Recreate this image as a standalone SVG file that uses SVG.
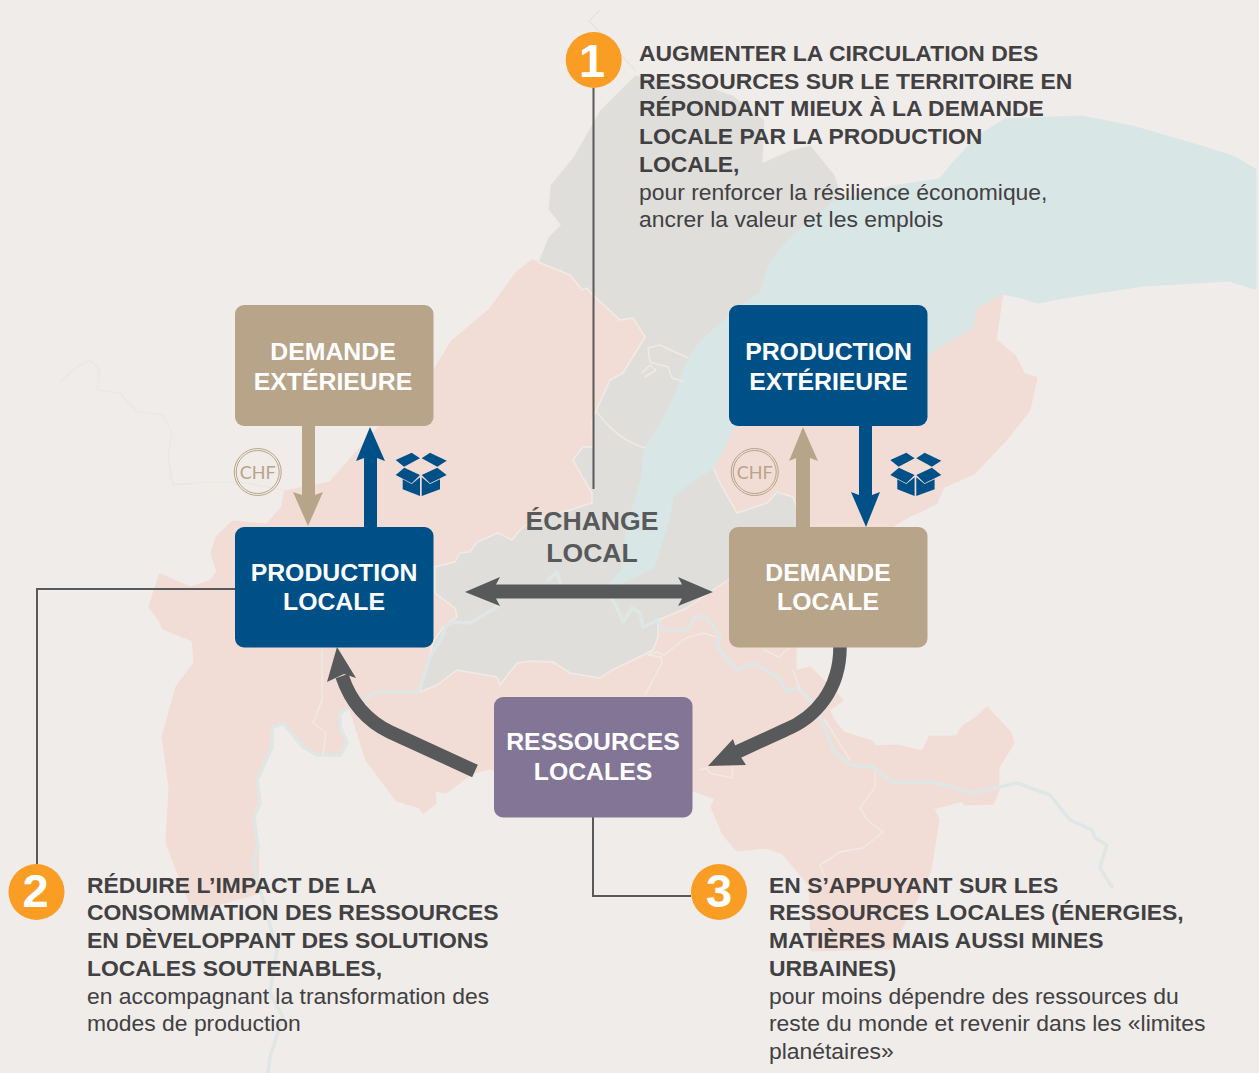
<svg xmlns="http://www.w3.org/2000/svg" xmlns:xlink="http://www.w3.org/1999/xlink" width="1259" height="1073" viewBox="0 0 1259 1073">
<style>
.land{stroke-linejoin:round;stroke-linecap:round}
.line{fill:none;stroke:#f0e9e4;stroke-width:1.5;stroke-linejoin:round;stroke-linecap:round}
.river{fill:none;stroke:#dfe7e6;stroke-width:3.5;stroke-linejoin:round;stroke-linecap:round}
.box{stroke:none}
.tan{fill:#b8a488}.blue{fill:#005088}.violet{fill:#837596}
.bt{font:bold 24.8px "Liberation Sans",Arial,sans-serif;fill:#fff;text-anchor:middle}
.b{font:bold 22.9px "Liberation Sans",Arial,sans-serif;fill:#414042}
.r{font:22.9px "Liberation Sans",Arial,sans-serif;fill:#414042}
.num{fill:#f99d25}
.digit{font:bold 47px "Liberation Sans",Arial,sans-serif;fill:#fff;text-anchor:middle}
.ld{fill:none;stroke:#58595b;stroke-width:2}
.chf{fill:none;stroke:#b8a488;stroke-width:1}
.chft{font:18px Lato,"Liberation Sans",sans-serif;fill:#b8a488;text-anchor:middle}
.grey{fill:#58595b}
</style>
<defs>
<g id="crate" fill="#005088">
<polygon points="395.7,460 411.7,452.7 420,458.3 404,466.7"/>
<polygon points="421.7,458.3 430,452.7 446.7,460.7 437.3,466.7"/>
<polygon points="395.7,475 404.3,467.7 420,475 411.7,483.3"/>
<polygon points="421.7,475 437.3,467.7 446.7,475 430,483.3"/>
<polygon points="402.7,479.3 411.7,484 420,477.3 420,496 402.7,489.3"/>
<polygon points="421.7,477.3 430,484 440,479.3 440,489.3 421.7,496"/>
</g>
<g id="coin">
<circle class="chf" cx="0" cy="0" r="23.5"/>
<circle class="chf" cx="0" cy="0" r="21.5"/>
<text class="chft" x="0" y="7">CHF</text>
</g>
</defs>
<rect width="1259" height="1073" fill="#f0ece9"/>
<g id="map">
<path class="line" style="stroke:#ebe7e4" d="M60,382 L75,368 90,360 100,370 97,390 120,393 137,412 163,415 172,433 168,457 173,485 207,482 240,482 283,490"/>
<path class="line" style="stroke:#e8e5e1" d="M600,10 L589,21 635,70"/>
<path class="land" fill="#f2ddd6" stroke="#f2ddd6" stroke-width="3" d="M532,261 L517,273 490,310 452,342 433,373 420,400 380,427 353,457 330,483 285,492 283,507 267,525 233,522 217,537 212,553 218,572 210,582 190,588 160,575 150,607 160,620 163,628 193,640 195,663 177,687 163,737 170,787 167,843 190,902 207,907 257,893 258,847 254,817 260,803 257,780 272,747 272,728 283,723 303,747 317,755 340,755 347,743 340,727 340,713 350,707 367,760 397,800 420,807 423,812 435,803 434,790 446,792 471,773 489,768 600,790 693,790 716,798 712,807 723,833 737,850 767,847 783,853 810,885 812,950 890,948 916,900 930,870 938,820 933,808 963,800 965,804 993,803 998,790 998,767 1013,743 1010,733 987,708 978,717 963,727 957,737 930,737 923,752 897,746 875,747 872,742 843,733 833,720 828,710 842,700 810,668 795,672 795,648 850,600 890,527 907,517 936,503 943,487 974,473 1005,440 1029,410 1036,378 1024,375 1015,357 995,340 1002,293 974,308 800,300 600,280 Z"/>
<path class="land" fill="#dfdeda" stroke="#f0ebe7" stroke-width="1.5" d="M538,262 L548,237 560,225 548,210 550,185 573,157 600,110 635,75 673,83 713,88 733,95 765,120 763,162 790,150 811,145 835,175 845,205 760,330 700,430 713,467 720,483 737,513 767,503 777,492 793,497 805,530 800,580 728,580 713,590 687,608 658,620 658,637 653,650 627,663 612,670 600,678 570,673 553,662 530,661 517,663 500,685 497,677 457,670 437,685 420,692 433,643 443,627 457,617 455,608 435,593 435,567 455,562 460,553 470,552 477,542 498,533 512,540 520,530 533,520 570,510 592,503 592,493 583,478 573,460 583,447 593,447 592,420 610,380 623,373 645,337 633,318 620,320 593,295 587,288 582,290 570,275 Z"/>
<path class="land" fill="#d9e6e6" stroke="#d9e6e6" stroke-width="3" d="M1255,170 L1255,288 1229,280 1143,285 1064,297 1038,302 1022,297 1002,293 974,308 972,327 930,352 850,400 733,427 727,440 713,467 693,480 673,495 667,523 653,567 633,577 607,588 623,570 627,530 637,497 642,480 645,448 660,427 677,393 687,363 700,343 733,313 761,293 771,263 789,240 833,203 892,187 940,180 954,163 978,137 1005,120 1081,117 1132,127 1201,147 1235,158 Z"/>
<path class="river" d="M607,590 L617,608 623,622 632,608 640,613 643,627 658,620 663,630 687,630 695,617 707,617 720,637 717,647 737,670 753,663 778,677 787,692 797,687 813,703 825,727 833,750 850,765 873,767 892,782 933,782 972,793 1017,783 1050,795 1070,820 1092,830 1095,838 1107,845 1102,860 1100,868 1112,887"/>
<path class="river" d="M548,580 L557,572 560,583 M497,607 L470,623 453,622 445,627 442,637 430,657 420,688 417,692 377,692 363,700 350,707 340,713 340,727 347,743 340,755 317,755 303,747 283,723 272,728 272,747 257,780 260,803 254,817 258,847 253,863 263,900 277,950 270,993 283,1017 270,1057 268,1073"/>
<path class="line" d="M597,412 C610,430 625,442 645,448"/>
<path class="line" d="M688,358 L675,352 660,345 648,348 650,362 668,367 672,378 683,381 M642,373 L650,365 656,370 645,377"/>
<path class="line" d="M875,770 L875,787 860,808 867,820 883,832 863,848 840,852 820,865 825,877"/>
<path class="line" d="M825,720 L850,760 M793,670 L800,690 M700,770 L707,768 709,773 732,778 733,767 M645,695 L662,663 661,657 648,655 657,652 664,655 686,638 704,633 716,637 M322,650 L322,700 313,723 326,733 323,755 M764,650 L779,657 789,648"/>
</g>
<g id="connectors">
<path class="ld" d="M593.5,88V489"/>
<path class="ld" d="M37,864V589H235"/>
<path class="ld" d="M593,817V896H691"/>
<polygon class="tan" points="302,426 315,426 315,495 323,492 308,526 293,492 302,495"/>
<polygon class="blue" points="364,527 377,527 377,458 385,461 370,427 356,461 364,458"/>
<polygon class="tan" points="796,527 810,527 810,458 818,461 803,427 789,461 796,458"/>
<polygon class="blue" points="859,426 872,426 872,495 880,492 866,527 851,492 859,495"/>
<polygon class="grey" points="465,592 500,577 496,584.5 682,584.5 678,577 713,592 678,606 682,598.5 496,598.5 500,606"/>
<path d="M475,771 L390,732 C365,720 350,700 342,676" fill="none" stroke="#58595b" stroke-width="13.5"/>
<polygon class="grey" points="337,647 356,678 344,674 327,682"/>
<path d="M840,647 C840,690 815,718 785,730 L735,753" fill="none" stroke="#58595b" stroke-width="13.5"/>
<polygon class="grey" points="708,766 733,739 737,751 746,765"/>
</g>
<g id="echange-local">
<text x="592" y="530" style="font:bold 26.600px 'Liberation Sans',Arial,sans-serif;fill:#58595b;text-anchor:middle">ÉCHANGE</text>
<text x="592" y="562" style="font:bold 26.600px 'Liberation Sans',Arial,sans-serif;fill:#58595b;text-anchor:middle">LOCAL</text>
</g>
<g id="demande-exterieure"><rect class="box tan" x="235" y="305" width="198.500" height="121" rx="9"/><text class="bt" x="333" y="360">DEMANDE</text><text class="bt" x="333" y="390">EXTÉRIEURE</text></g>
<g id="production-exterieure"><rect class="box blue" x="729" y="305" width="198.500" height="121" rx="9"/><text class="bt" x="828.500" y="360">PRODUCTION</text><text class="bt" x="828.500" y="390">EXTÉRIEURE</text></g>
<g id="production-locale"><rect class="box blue" x="235" y="527" width="198.500" height="120.500" rx="9"/><text class="bt" x="334" y="581">PRODUCTION</text><text class="bt" x="334" y="610">LOCALE</text></g>
<g id="demande-locale"><rect class="box tan" x="729" y="527" width="198.500" height="120.500" rx="9"/><text class="bt" x="828" y="581">DEMANDE</text><text class="bt" x="828" y="610">LOCALE</text></g>
<g id="ressources-locales"><rect class="box violet" x="494" y="697" width="198.500" height="120.500" rx="9"/><text class="bt" x="593" y="750">RESSOURCES</text><text class="bt" x="593" y="780">LOCALES</text></g>
<g id="chf-left"><use href="#coin" x="257.700" y="472"/></g>
<g id="chf-right"><use href="#coin" x="754.700" y="472"/></g>
<g id="crate-left"><use href="#crate"/></g>
<g id="crate-right"><use href="#crate" x="494.600"/></g>
<g id="callout-1">
<circle class="num" cx="593.700" cy="60" r="28"/><text class="digit" x="592" y="77">1</text>
<text class="b" x="639" y="61">AUGMENTER LA CIRCULATION DES</text>
<text class="b" x="639" y="88.700">RESSOURCES SUR LE TERRITOIRE EN</text>
<text class="b" x="639" y="116.400">RÉPONDANT MIEUX À LA DEMANDE</text>
<text class="b" x="639" y="144.100">LOCALE PAR LA PRODUCTION</text>
<text class="b" x="639" y="171.800">LOCALE,</text>
<text class="r" x="639" y="199.500">pour renforcer la résilience économique,</text>
<text class="r" x="639" y="227.200">ancrer la valeur et les emplois</text>
</g>
<g id="callout-2">
<circle class="num" cx="36.500" cy="892" r="28"/><text class="digit" x="35.500" y="907">2</text>
<text class="b" x="87" y="892.700">RÉDUIRE L’IMPACT DE LA</text>
<text class="b" x="87" y="920.400">CONSOMMATION DES RESSOURCES</text>
<text class="b" x="87" y="948.100">EN DÈVELOPPANT DES SOLUTIONS</text>
<text class="b" x="87" y="975.800">LOCALES SOUTENABLES,</text>
<text class="r" x="87" y="1003.500">en accompagnant la transformation des</text>
<text class="r" x="87" y="1031.200">modes de production</text>
</g>
<g id="callout-3">
<circle class="num" cx="719" cy="892" r="28"/><text class="digit" x="719" y="907">3</text>
<text class="b" x="769" y="892.700">EN S’APPUYANT SUR LES</text>
<text class="b" x="769" y="920.400">RESSOURCES LOCALES (ÉNERGIES,</text>
<text class="b" x="769" y="948.100">MATIÈRES MAIS AUSSI MINES</text>
<text class="b" x="769" y="975.800">URBAINES)</text>
<text class="r" x="769" y="1003.500">pour moins dépendre des ressources du</text>
<text class="r" x="769" y="1031.200">reste du monde et revenir dans les «limites</text>
<text class="r" x="769" y="1058.900">planétaires»</text>
</g>
</svg>
